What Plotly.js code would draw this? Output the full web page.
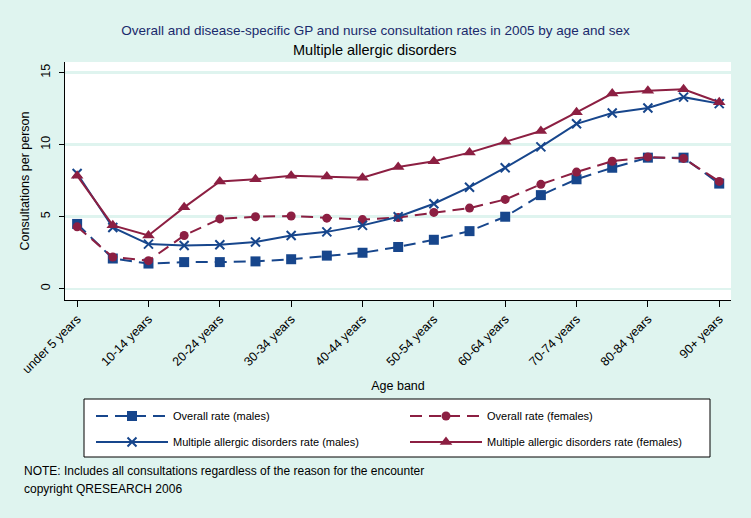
<!DOCTYPE html>
<html>
<head>
<meta charset="utf-8">
<script src="https://cdn.plot.ly/plotly-3.0.1.min.js"></script>
<style>html,body{margin:0;padding:0;background:#dff4ef;}#chart{width:751px;height:518px;}</style>
</head>
<body>
<div id="chart"></div>
<script>
var ageBands = ["under 5 years","5-9 years","10-14 years","15-19 years","20-24 years","25-29 years","30-34 years","35-39 years","40-44 years","45-49 years","50-54 years","55-59 years","60-64 years","65-69 years","70-74 years","75-79 years","80-84 years","85-89 years","90+ years"];
var tickBands = ["under 5 years","10-14 years","20-24 years","30-34 years","40-44 years","50-54 years","60-64 years","70-74 years","80-84 years","90+ years"];
var overallMales = [4.5, 2.1, 1.75, 1.85, 1.85, 1.9, 2.05, 2.3, 2.5, 2.9, 3.4, 4.0, 5.0, 6.5, 7.6, 8.4, 9.1, 9.1, 7.3];
var overallFemales = [4.3, 2.2, 1.95, 3.7, 4.85, 5.0, 5.05, 4.9, 4.8, 4.95, 5.3, 5.6, 6.2, 7.25, 8.1, 8.85, 9.15, 9.05, 7.45];
var allergicMales = [8.0, 4.25, 3.1, 3.0, 3.05, 3.25, 3.7, 3.95, 4.4, 5.0, 5.9, 7.05, 8.4, 9.85, 11.45, 12.2, 12.55, 13.3, 12.85];
var allergicFemales = [7.85, 4.4, 3.7, 5.65, 7.45, 7.6, 7.85, 7.8, 7.7, 8.45, 8.85, 9.45, 10.2, 10.95, 12.25, 13.55, 13.75, 13.85, 12.95];
var seriesNames = ["Overall rate (males)","Overall rate (females)","Multiple allergic disorders rate (males)","Multiple allergic disorders rate (females)"];

var BLUE = "#17468c", MAROON = "#8c1f42", BG = "#dff4ef";
var FONT = "Liberation Sans, Arial, sans-serif";

var traces = [
  {x: ageBands, y: overallMales, name: seriesNames[0], type: "scatter", mode: "lines+markers", legend: "legend",
   line: {color: BLUE, width: 2, dash: "12px,7px"}, marker: {symbol: "square", size: 10, color: BLUE}},
  {x: ageBands, y: overallFemales, name: seriesNames[1], type: "scatter", mode: "lines+markers", legend: "legend2",
   line: {color: MAROON, width: 2, dash: "12px,7px"}, marker: {symbol: "circle", size: 9, color: MAROON}},
  {x: ageBands, y: allergicMales, name: seriesNames[2], type: "scatter", mode: "lines+markers", legend: "legend3",
   line: {color: BLUE, width: 2}, marker: {symbol: "x-thin", size: 9, color: BLUE, line: {color: BLUE, width: 2}}},
  {x: ageBands, y: allergicFemales, name: seriesNames[3], type: "scatter", mode: "lines+markers", legend: "legend4",
   line: {color: MAROON, width: 2}, marker: {symbol: "triangle-up", size: 11, color: MAROON}}
];

var W = 666, H = 238, L = 65, T = 62;
function px(x){ return (x - L) / W; }
function py(y){ return (T + H - y) / H; }
function leg(x, y){
  return {x: px(x), y: py(y), xanchor: "left", yanchor: "middle", orientation: "h",
          bgcolor: "rgba(0,0,0,0)", borderwidth: 0, itemwidth: 72,
          font: {family: FONT, size: 11, color: "#000"}};
}

var layout = {
  width: 751, height: 518,
  margin: {l: 65, r: 20, t: 62, b: 218},
  paper_bgcolor: BG, plot_bgcolor: "#ffffff",
  font: {family: FONT, color: "#000"},
  showlegend: true,
  title: {text: "Overall and disease-specific GP and nurse consultation rates in 2005 by age and sex",
          x: 0.5, xref: "container", xanchor: "center", y: 1 - 30/518, yref: "container", yanchor: "middle",
          font: {family: FONT, size: 13.5, color: "#1a2a6c"}},
  xaxis: {type: "category", range: [-0.34, 18.33], tickvals: tickBands, ticktext: tickBands,
          tickangle: -45, ticks: "outside", ticklen: 6, tickcolor: "#000", tickfont: {family: FONT, size: 12.5},
          showline: true, linecolor: "#000", linewidth: 1, showgrid: false, zeroline: false,
          title: {text: "Age band", font: {family: FONT, size: 12.5}, standoff: 5}},
  yaxis: {range: [-0.78, 15.74], tickvals: [0, 5, 10, 15], ticktext: ["0","5","10","15"], tickangle: -90,
          ticks: "outside", ticklen: 5, tickcolor: "#000", tickfont: {family: FONT, size: 12.5},
          ticklabelstandoff: 4,
          showline: true, linecolor: "#000", linewidth: 1, showgrid: true, gridcolor: BG, gridwidth: 2.5,
          zeroline: false,
          title: {text: "Consultations per person", font: {family: FONT, size: 12.5}, standoff: 6}},
  legend: leg(91, 416),
  legend2: leg(405, 416),
  legend3: leg(91, 442),
  legend4: leg(405, 442),
  shapes: [
    {type: "rect", xref: "paper", yref: "paper", x0: px(84), x1: px(710), y0: py(399), y1: py(457),
     line: {color: "#000", width: 1}, fillcolor: "#ffffff", layer: "below"}
  ],
  annotations: [
    {text: "Multiple allergic disorders", xref: "paper", yref: "paper", x: px(375), y: py(50),
     xanchor: "center", yanchor: "middle", showarrow: false, font: {family: FONT, size: 14.5, color: "#000"}},
    {text: "NOTE: Includes all consultations regardless of the reason for the encounter", xref: "paper", yref: "paper",
     x: px(22), y: py(471), xanchor: "left", yanchor: "middle", showarrow: false, font: {family: FONT, size: 12, color: "#000"}},
    {text: "copyright QRESEARCH 2006", xref: "paper", yref: "paper",
     x: px(22), y: py(489), xanchor: "left", yanchor: "middle", showarrow: false, font: {family: FONT, size: 12, color: "#000"}}
  ]
};

Plotly.newPlot("chart", traces, layout, {displayModeBar: false, staticPlot: true});
</script>
</body>
</html>
